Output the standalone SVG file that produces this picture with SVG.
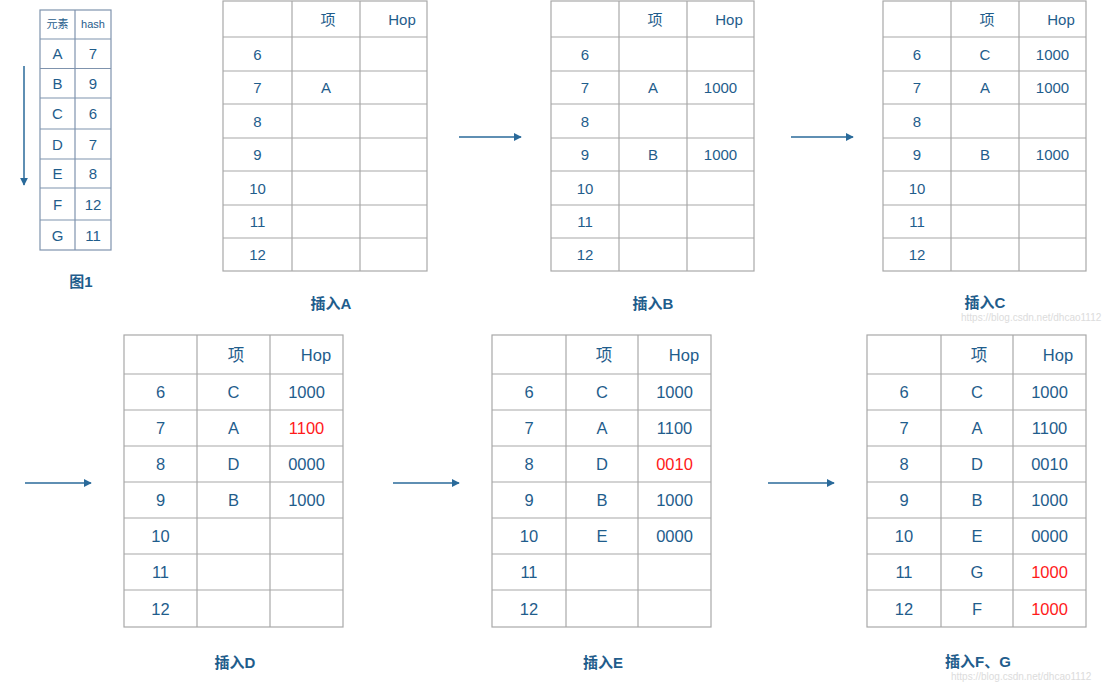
<svg xmlns="http://www.w3.org/2000/svg" width="1107" height="696" viewBox="0 0 1107 696">
<style>
.g{fill:#fff;stroke:#a8a8a8;stroke-width:1.2}
.l{stroke:#a8a8a8;stroke-width:1.2}
.sb{stroke:#7f93ad;stroke-width:1.2}
.t{font-family:"Liberation Sans","Noto Sans CJK SC",sans-serif;fill:#1f5d8c;text-anchor:middle}
.s{font-size:15px}
.b{font-size:16.5px}
.r{fill:#ff1a1a}
.cap{font-family:"Liberation Sans","Noto Sans CJK SC",sans-serif;fill:#1f5d8c;font-size:15px;font-weight:600;text-anchor:middle}
.wm{font-family:"Liberation Sans",sans-serif;fill:#d4d4d4;font-size:10px;opacity:0.8}
.c{stroke:#2a6a9a;stroke-width:1.5;fill:none}
</style>
<defs>
<marker id="ah" viewBox="0 0 10 10" refX="9" refY="5" markerWidth="8" markerHeight="8" markerUnits="userSpaceOnUse" orient="auto">
<path d="M0,0 L10,5 L0,10 Z" fill="#2a6a9a"/>
</marker>
</defs>
<rect width="1107" height="696" fill="#fff"/>

<g id="fig1">
<rect x="40" y="10" width="71" height="240" fill="#fff" stroke="#7f93ad" stroke-width="1.2"/>
<line class="sb" x1="75" y1="10" x2="75" y2="250"/>
<line class="sb" x1="40" y1="39" x2="111" y2="39"/>
<line class="sb" x1="40" y1="68.5" x2="111" y2="68.5"/>
<line class="sb" x1="40" y1="98" x2="111" y2="98"/>
<line class="sb" x1="40" y1="129" x2="111" y2="129"/>
<line class="sb" x1="40" y1="159" x2="111" y2="159"/>
<line class="sb" x1="40" y1="188" x2="111" y2="188"/>
<line class="sb" x1="40" y1="220" x2="111" y2="220"/>
<text class="t" x="57.5" y="28" font-size="11">元素</text>
<text class="t" x="93" y="28" font-size="11">hash</text>
<g font-size="15">
<text class="t" x="57.5" y="59">A</text><text class="t" x="93" y="59">7</text>
<text class="t" x="57.5" y="89">B</text><text class="t" x="93" y="89">9</text>
<text class="t" x="57.5" y="119">C</text><text class="t" x="93" y="119">6</text>
<text class="t" x="57.5" y="149.5">D</text><text class="t" x="93" y="149.5">7</text>
<text class="t" x="57.5" y="179">E</text><text class="t" x="93" y="179">8</text>
<text class="t" x="57.5" y="209.5">F</text><text class="t" x="93" y="209.5">12</text>
<text class="t" x="57.5" y="240.5">G</text><text class="t" x="93" y="240.5">11</text>
</g>
<text class="cap" x="81" y="287">图1</text>
</g>

<g id="tableA">
<rect class="g" x="223" y="1" width="204" height="270"/>
<line class="l" x1="292" y1="1" x2="292" y2="271"/><line class="l" x1="360" y1="1" x2="360" y2="271"/>
<line class="l" x1="223" y1="37" x2="427" y2="37"/><line class="l" x1="223" y1="71" x2="427" y2="71"/>
<line class="l" x1="223" y1="104" x2="427" y2="104"/><line class="l" x1="223" y1="138" x2="427" y2="138"/>
<line class="l" x1="223" y1="171" x2="427" y2="171"/><line class="l" x1="223" y1="205" x2="427" y2="205"/>
<line class="l" x1="223" y1="238" x2="427" y2="238"/>
<g class="s">
<text class="t" x="328" y="25">项</text><text class="t" x="402" y="25">Hop</text>
<text class="t" x="257.5" y="59.5">6</text>
<text class="t" x="257.5" y="93">7</text><text class="t" x="326" y="93">A</text>
<text class="t" x="257.5" y="126.5">8</text>
<text class="t" x="257.5" y="160">9</text>
<text class="t" x="257.5" y="193.5">10</text>
<text class="t" x="257.5" y="227">11</text>
<text class="t" x="257.5" y="260">12</text>
</g>
<text class="cap" x="331" y="309">插入A</text>
</g>

<g id="tableB">
<rect class="g" x="551" y="1" width="203" height="270"/>
<line class="l" x1="619" y1="1" x2="619" y2="271"/><line class="l" x1="687" y1="1" x2="687" y2="271"/>
<line class="l" x1="551" y1="37" x2="754" y2="37"/><line class="l" x1="551" y1="71" x2="754" y2="71"/>
<line class="l" x1="551" y1="104" x2="754" y2="104"/><line class="l" x1="551" y1="138" x2="754" y2="138"/>
<line class="l" x1="551" y1="171" x2="754" y2="171"/><line class="l" x1="551" y1="205" x2="754" y2="205"/>
<line class="l" x1="551" y1="238" x2="754" y2="238"/>
<g class="s">
<text class="t" x="655" y="25">项</text><text class="t" x="729" y="25">Hop</text>
<text class="t" x="585" y="59.5">6</text>
<text class="t" x="585" y="93">7</text><text class="t" x="653" y="93">A</text><text class="t" x="720.5" y="93">1000</text>
<text class="t" x="585" y="126.5">8</text>
<text class="t" x="585" y="160">9</text><text class="t" x="653" y="160">B</text><text class="t" x="720.5" y="160">1000</text>
<text class="t" x="585" y="193.5">10</text>
<text class="t" x="585" y="227">11</text>
<text class="t" x="585" y="260">12</text>
</g>
<text class="cap" x="653" y="309">插入B</text>
</g>

<g id="tableC">
<rect class="g" x="883" y="1" width="203" height="270"/>
<line class="l" x1="951" y1="1" x2="951" y2="271"/><line class="l" x1="1019" y1="1" x2="1019" y2="271"/>
<line class="l" x1="883" y1="37" x2="1086" y2="37"/><line class="l" x1="883" y1="71" x2="1086" y2="71"/>
<line class="l" x1="883" y1="104" x2="1086" y2="104"/><line class="l" x1="883" y1="138" x2="1086" y2="138"/>
<line class="l" x1="883" y1="171" x2="1086" y2="171"/><line class="l" x1="883" y1="205" x2="1086" y2="205"/>
<line class="l" x1="883" y1="238" x2="1086" y2="238"/>
<g class="s">
<text class="t" x="987" y="25">项</text><text class="t" x="1061" y="25">Hop</text>
<text class="t" x="917" y="59.5">6</text><text class="t" x="985" y="59.5">C</text><text class="t" x="1052.5" y="59.5">1000</text>
<text class="t" x="917" y="93">7</text><text class="t" x="985" y="93">A</text><text class="t" x="1052.5" y="93">1000</text>
<text class="t" x="917" y="126.5">8</text>
<text class="t" x="917" y="160">9</text><text class="t" x="985" y="160">B</text><text class="t" x="1052.5" y="160">1000</text>
<text class="t" x="917" y="193.5">10</text>
<text class="t" x="917" y="227">11</text>
<text class="t" x="917" y="260">12</text>
</g>
<text class="cap" x="985" y="308">插入C</text>
<text class="wm" x="961" y="321">https://blog.csdn.net/dhcao1112</text>
</g>

<g id="tableD">
<rect class="g" x="124" y="335" width="219" height="292"/>
<line class="l" x1="197" y1="335" x2="197" y2="627"/><line class="l" x1="270" y1="335" x2="270" y2="627"/>
<line class="l" x1="124" y1="374" x2="343" y2="374"/><line class="l" x1="124" y1="410" x2="343" y2="410"/>
<line class="l" x1="124" y1="446" x2="343" y2="446"/><line class="l" x1="124" y1="482" x2="343" y2="482"/>
<line class="l" x1="124" y1="518" x2="343" y2="518"/><line class="l" x1="124" y1="554" x2="343" y2="554"/>
<line class="l" x1="124" y1="590" x2="343" y2="590"/>
<g class="b">
<text class="t" x="236" y="360.5">项</text><text class="t" x="316" y="360.5">Hop</text>
<text class="t" x="160.5" y="398">6</text><text class="t" x="233.5" y="398">C</text><text class="t" x="306.5" y="398">1000</text>
<text class="t" x="160.5" y="434">7</text><text class="t" x="233.5" y="434">A</text><text class="t r" x="306.5" y="434">1100</text>
<text class="t" x="160.5" y="470">8</text><text class="t" x="233.5" y="470">D</text><text class="t" x="306.5" y="470">0000</text>
<text class="t" x="160.5" y="506">9</text><text class="t" x="233.5" y="506">B</text><text class="t" x="306.5" y="506">1000</text>
<text class="t" x="160.5" y="542">10</text>
<text class="t" x="160.5" y="578">11</text>
<text class="t" x="160.5" y="614.5">12</text>
</g>
<text class="cap" x="235" y="668">插入D</text>
</g>

<g id="tableE">
<rect class="g" x="492" y="335" width="219" height="292"/>
<line class="l" x1="566" y1="335" x2="566" y2="627"/><line class="l" x1="638" y1="335" x2="638" y2="627"/>
<line class="l" x1="492" y1="374" x2="711" y2="374"/><line class="l" x1="492" y1="410" x2="711" y2="410"/>
<line class="l" x1="492" y1="446" x2="711" y2="446"/><line class="l" x1="492" y1="482" x2="711" y2="482"/>
<line class="l" x1="492" y1="518" x2="711" y2="518"/><line class="l" x1="492" y1="554" x2="711" y2="554"/>
<line class="l" x1="492" y1="590" x2="711" y2="590"/>
<g class="b">
<text class="t" x="604" y="360.5">项</text><text class="t" x="684" y="360.5">Hop</text>
<text class="t" x="529" y="398">6</text><text class="t" x="602" y="398">C</text><text class="t" x="674.5" y="398">1000</text>
<text class="t" x="529" y="434">7</text><text class="t" x="602" y="434">A</text><text class="t" x="674.5" y="434">1100</text>
<text class="t" x="529" y="470">8</text><text class="t" x="602" y="470">D</text><text class="t r" x="674.5" y="470">0010</text>
<text class="t" x="529" y="506">9</text><text class="t" x="602" y="506">B</text><text class="t" x="674.5" y="506">1000</text>
<text class="t" x="529" y="542">10</text><text class="t" x="602" y="542">E</text><text class="t" x="674.5" y="542">0000</text>
<text class="t" x="529" y="578">11</text>
<text class="t" x="529" y="614.5">12</text>
</g>
<text class="cap" x="603" y="668">插入E</text>
</g>

<g id="tableFG">
<rect class="g" x="867" y="335" width="219" height="292"/>
<line class="l" x1="941" y1="335" x2="941" y2="627"/><line class="l" x1="1013" y1="335" x2="1013" y2="627"/>
<line class="l" x1="867" y1="374" x2="1086" y2="374"/><line class="l" x1="867" y1="410" x2="1086" y2="410"/>
<line class="l" x1="867" y1="446" x2="1086" y2="446"/><line class="l" x1="867" y1="482" x2="1086" y2="482"/>
<line class="l" x1="867" y1="518" x2="1086" y2="518"/><line class="l" x1="867" y1="554" x2="1086" y2="554"/>
<line class="l" x1="867" y1="590" x2="1086" y2="590"/>
<g class="b">
<text class="t" x="979" y="360.5">项</text><text class="t" x="1058" y="360.5">Hop</text>
<text class="t" x="904" y="398">6</text><text class="t" x="977" y="398">C</text><text class="t" x="1049.5" y="398">1000</text>
<text class="t" x="904" y="434">7</text><text class="t" x="977" y="434">A</text><text class="t" x="1049.5" y="434">1100</text>
<text class="t" x="904" y="470">8</text><text class="t" x="977" y="470">D</text><text class="t" x="1049.5" y="470">0010</text>
<text class="t" x="904" y="506">9</text><text class="t" x="977" y="506">B</text><text class="t" x="1049.5" y="506">1000</text>
<text class="t" x="904" y="542">10</text><text class="t" x="977" y="542">E</text><text class="t" x="1049.5" y="542">0000</text>
<text class="t" x="904" y="578">11</text><text class="t" x="977" y="578">G</text><text class="t r" x="1049.5" y="578">1000</text>
<text class="t" x="904" y="614.5">12</text><text class="t" x="977" y="614.5">F</text><text class="t r" x="1049.5" y="614.5">1000</text>
</g>
<text class="cap" x="978" y="667">插入F、G</text>
<text class="wm" x="951" y="680">https://blog.csdn.net/dhcao1112</text>
</g>

<g id="connectors">
<line class="c" x1="24" y1="66" x2="24" y2="185" marker-end="url(#ah)"/>
<line class="c" x1="459" y1="137" x2="521" y2="137" marker-end="url(#ah)"/>
<line class="c" x1="791" y1="137" x2="853" y2="137" marker-end="url(#ah)"/>
<line class="c" x1="25" y1="483" x2="91" y2="483" marker-end="url(#ah)"/>
<line class="c" x1="393" y1="483" x2="459" y2="483" marker-end="url(#ah)"/>
<line class="c" x1="768" y1="483" x2="834" y2="483" marker-end="url(#ah)"/>
</g>
</svg>
